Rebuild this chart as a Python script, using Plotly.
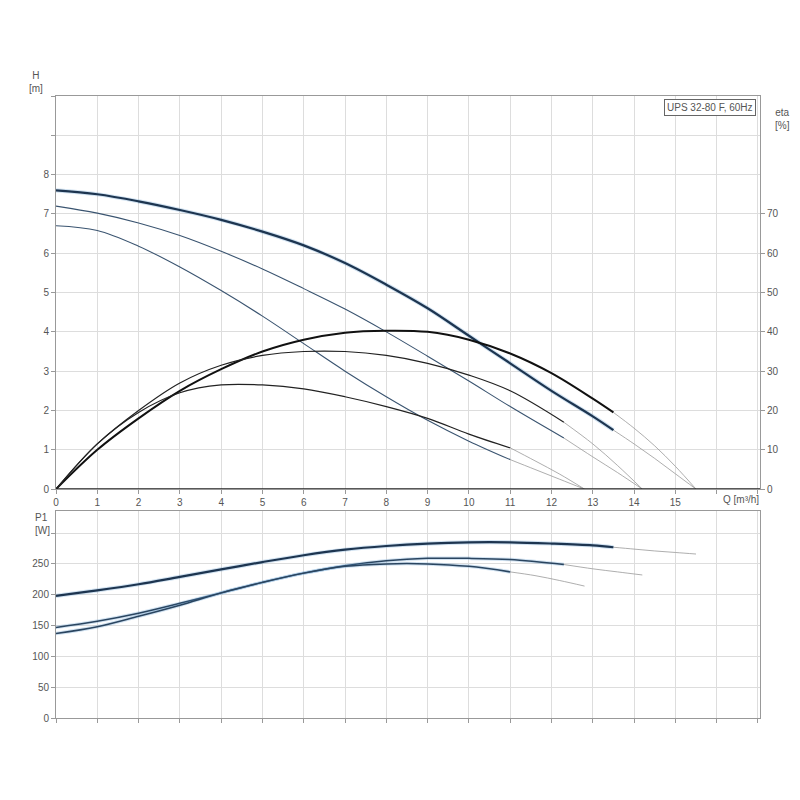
import plotly.graph_objects as go

q3 = [0,1,2,3,4,5,6,7,8,9,10,11,12,13,13.5]
h3 = [7.6,7.5,7.32,7.1,6.85,6.55,6.2,5.75,5.2,4.6,3.9,3.2,2.5,1.85,1.5]
q3t = [13.5,14,14.5,15,15.5]; h3t = [1.5,1.15,0.78,0.39,0]
q2 = [0,1,2,3,4,5,6,7,8,9,10,11,12.3]
h2 = [7.2,7.02,6.77,6.45,6.05,5.6,5.1,4.58,4.0,3.38,2.75,2.1,1.3]
q2t = [12.3,13,13.6,14.2]; h2t = [1.3,0.82,0.42,0]
q1 = [0,1,2,3,4,5,6,7,8,9,10,11]
h1 = [6.7,6.58,6.18,5.65,5.05,4.4,3.7,3.0,2.35,1.75,1.22,0.75]
q1t = [11,11.6,12.2,12.8]; h1t = [0.75,0.5,0.25,0]

e3 = [0,10,18,25,30.5,35,38,39.8,40.3,40,38,34.5,29.5,23,19.5]
e3t = [19.5,15.5,11,5.8,0]
e2 = [0,11.5,20,27,31.5,34,35,35,34,32,29,25,17]
e2t = [17,11.5,6,0]
e1 = [0,11.5,19.5,24.5,26.5,26.5,25.5,23.5,21,18,14,10.5]
e1t = [10.5,7.2,3.8,0]

p3 = [198,207,217,229,241,253,264,273,279,283,285,285,283,280,277]
p3t = [277,274,271,268.5,266]
p2 = [147,157,170,186,203,220,235,247,255,259,259,257,249]
p2t = [249,242,237,232]
p1 = [137,148,165,183,203,220,235,246,250,250,246,237]
p1t = [237,231,223,214]

BLUE = "#1d3550"; GLOW = "rgba(70,140,200,0.25)"; BLACK = "#111111"; THIN = "#999999"
fig = go.Figure()
def add(x, y, color, w, xa, ya, glow=False):
    if glow:
        fig.add_trace(go.Scatter(x=x, y=y, mode="lines", line=dict(color=GLOW, width=w+2, shape="spline"), xaxis=xa, yaxis=ya, hoverinfo="skip"))
    fig.add_trace(go.Scatter(x=x, y=y, mode="lines", line=dict(color=color, width=w, shape="spline"), xaxis=xa, yaxis=ya))

for qt, ht in [(q3t,h3t),(q2t,h2t),(q1t,h1t)]:
    add(qt, ht, THIN, 0.8, "x", "y")
for qt, et in [(q3t,e3t),(q2t,e2t),(q1t,e1t)]:
    add(qt, et, THIN, 0.8, "x", "y2")
for qt, pt in [(q3t,p3t),(q2t,p2t),(q1t,p1t)]:
    add(qt, pt, THIN, 0.8, "x2", "y3")
add(q3, h3, BLUE, 2.2, "x", "y", True)
add(q2, h2, "#3a5470", 1.1, "x", "y")
add(q1, h1, "#3a5470", 1.1, "x", "y")
add(q3, e3, BLACK, 2.0, "x", "y2")
add(q2, e2, "#222222", 1.2, "x", "y2")
add(q1, e1, "#222222", 1.2, "x", "y2")
add(q3, p3, BLUE, 2.2, "x2", "y3", True)
add(q2, p2, "#2a4560", 1.5, "x2", "y3", True)
add(q1, p1, "#2a4560", 1.5, "x2", "y3", True)

tf = dict(family="Liberation Sans, Arial", size=10, color="#555555")
xcommon = dict(range=[0,17.05], tickvals=list(range(18)), showgrid=True, gridcolor="#dddddd",
               zeroline=False, showline=True, linecolor="#999999", mirror=True, ticks="outside",
               ticklen=4, tickcolor="#999999", tickfont=tf, automargin=False)
fig.update_layout(
    width=800, height=800, showlegend=False, plot_bgcolor="white", paper_bgcolor="white",
    margin=dict(l=48, r=48, t=88, b=90, autoexpand=False),
    xaxis=dict(**xcommon, ticktext=[str(i) for i in range(16)]+["",""], anchor="y"),
    yaxis=dict(domain=[0.368,1], range=[0,10], tickvals=list(range(11)), ticktext=[str(i) for i in range(9)]+["",""],
               showgrid=True, gridcolor="#dddddd", zeroline=False, showline=True, linecolor="#999999",
               mirror=True, ticks="outside", ticklen=4, tickcolor="#999999", tickfont=tf, automargin=False),
    yaxis2=dict(overlaying="y", side="right", range=[0,100], tickvals=list(range(0,80,10)),
                showgrid=False, zeroline=False, ticks="outside", ticklen=4, tickcolor="#999999", tickfont=tf, automargin=False),
    xaxis2=dict(**xcommon, ticktext=[""]*18, anchor="y3"),
    yaxis3=dict(domain=[0,0.333], range=[0,336], tickvals=list(range(0,350,50)),
                ticktext=[str(v) for v in range(0,300,50)]+[""], showgrid=True, gridcolor="#dddddd",
                zeroline=False, showline=True, linecolor="#999999", mirror=True, ticks="outside",
                ticklen=4, tickcolor="#999999", tickfont=tf, anchor="x2", automargin=False),
)
fig.add_shape(type="line", xref="x", yref="y", x0=0, x1=17.05, y0=0, y1=0, line=dict(color="#222222", width=1.5))
af = dict(family="Liberation Sans, Arial", size=10, color="#555555")
fig.add_annotation(text="H<br>[m]", xref="paper", yref="paper", x=-0.028, y=1.0, xanchor="center", yanchor="bottom", showarrow=False, font=af, align="center")
fig.add_annotation(text="eta<br>[%]", xref="paper", yref="paper", x=1.032, y=0.985, xanchor="center", yanchor="top", showarrow=False, font=af, align="center")
fig.add_annotation(text="P1<br>[W]", xref="paper", yref="paper", x=-0.032, y=0.335, xanchor="left", yanchor="top", showarrow=False, font=af, align="left")
fig.add_annotation(text="Q [m³/h]", xref="x", yref="paper", x=16.6, y=0.368, xanchor="center", yanchor="top", yshift=-3, showarrow=False, font=af)
fig.add_annotation(text="UPS 32-80 F, 60Hz", xref="paper", yref="paper", x=0.995, y=0.995, xanchor="right", yanchor="top",
                   showarrow=False, font=af, bordercolor="#666666", borderwidth=1, borderpad=2, bgcolor="white")
fig.write_html("out.html")
